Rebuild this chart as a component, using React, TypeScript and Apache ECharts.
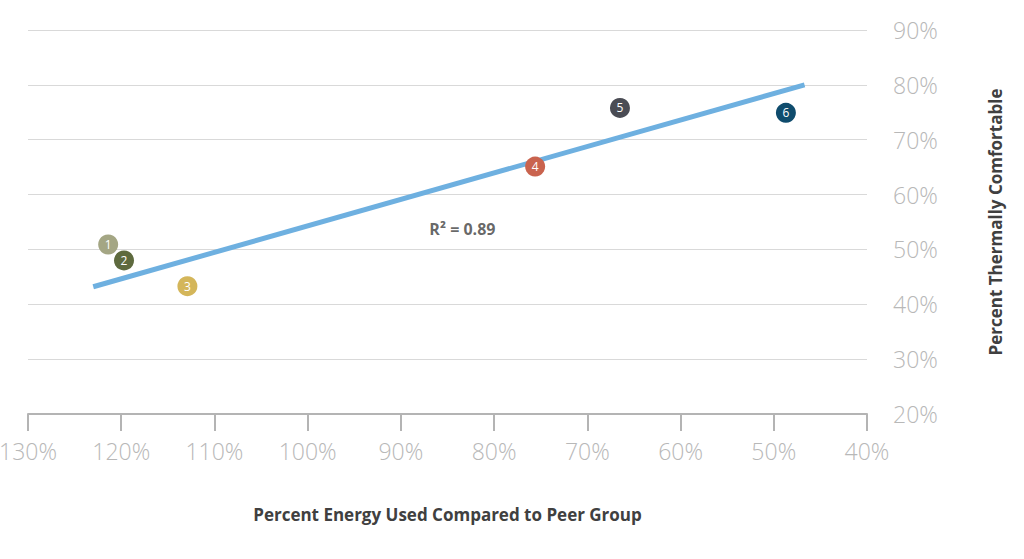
import { useEffect, useRef } from 'react';
import * as echarts from 'echarts';

// Percent energy used compared to peer group (x) vs percent thermally comfortable (y)
const pointLabels = ['1', '2', '3', '4', '5', '6'];
const energyUsed = [121.4, 119.7, 112.9, 75.6, 66.5, 48.7];
const comfortable = [50.9, 48.0, 43.3, 65.1, 75.8, 74.9];
const pointColors = ['#a4a684', '#5e6a3e', '#d4b65a', '#c9634e', '#4a4c54', '#0f4c6d'];

// linear fit drawn across the data range
const trendX = [123.0, 46.7];
const trendY = [43.2, 80.0];
const rSquared = 0.89;
const rLabelAt = [83.4, 53.8];

const xTicks = { min: 40, max: 130, step: 10 };
const yTicks = { min: 20, max: 90, step: 10 };

const tickFont = "'Open Sans', 'Noto Sans', sans-serif";

export default function App() {
  const chartRef = useRef<HTMLDivElement>(null);

  useEffect(() => {
    if (!chartRef.current) return;
    const chart = echarts.init(chartRef.current, undefined, { renderer: 'svg' });

    const option: echarts.EChartsOption = {
      animation: false,
      backgroundColor: '#ffffff',
      grid: {
        left: 28,
        right: 157,
        top: 30,
        bottom: 145,
        outerBoundsMode: 'none',
      } as any,
      xAxis: {
        type: 'value',
        inverse: true,
        min: xTicks.min,
        max: xTicks.max,
        interval: xTicks.step,
        name: 'Percent Energy Used Compared to Peer Group',
        nameLocation: 'middle',
        nameGap: 92,
        nameTextStyle: {
          color: '#404040',
          fontSize: 17,
          fontWeight: 'bold',
          fontFamily: tickFont,
        },
        axisLine: {
          show: true,
          lineStyle: { color: '#b4b4b4', width: 2 },
        },
        axisTick: {
          show: true,
          length: 17,
          lineStyle: { color: '#b4b4b4', width: 2 },
        },
        axisLabel: {
          color: '#b8b8b8',
          fontSize: 23,
          fontWeight: 300,
          fontFamily: tickFont,
          margin: 25,
          formatter: '{value}%',
        },
        splitLine: { show: false },
      },
      yAxis: {
        type: 'value',
        position: 'right',
        min: yTicks.min,
        max: yTicks.max,
        interval: yTicks.step,
        name: 'Percent Thermally Comfortable',
        nameLocation: 'middle',
        nameGap: 120,
        nameTextStyle: {
          color: '#404040',
          fontSize: 17,
          fontWeight: 'bold',
          fontFamily: tickFont,
        },
        axisLine: { show: false },
        axisTick: { show: false },
        axisLabel: {
          color: '#b8b8b8',
          fontSize: 23,
          fontWeight: 300,
          fontFamily: tickFont,
          margin: 26,
          formatter: '{value}%',
        },
        splitLine: {
          show: true,
          lineStyle: { color: '#d9d9d9', width: 1 },
        },
      },
      series: [
        {
          type: 'line',
          data: trendX.map((x, i) => [x, trendY[i]]),
          symbol: 'none',
          lineStyle: { color: '#6eb0e0', width: 5 },
          z: 2,
          silent: true,
        },
        {
          type: 'scatter',
          data: energyUsed.map((x, i) => ({
            value: [x, comfortable[i]],
            itemStyle: { color: pointColors[i], opacity: 1 },
          })),
          symbolSize: 20,
          z: 3,
          label: {
            show: true,
            position: 'inside',
            color: '#ffffff',
            fontSize: 12,
            fontFamily: tickFont,
            formatter: (p: any) => pointLabels[p.dataIndex],
          },
        },
        {
          type: 'scatter',
          data: [rLabelAt],
          symbolSize: 0,
          silent: true,
          label: {
            show: true,
            position: 'inside',
            color: '#404040',
            fontSize: 16,
            fontWeight: 'bold',
            fontFamily: tickFont,
            formatter: () => `R² = ${rSquared.toFixed(2)}`,
          },
        },
      ],
    };

    chart.setOption(option);

    return () => {
      chart.dispose();
    };
  }, []);

  return (
    <div
      ref={chartRef}
      style={{ position: 'absolute', left: 0, top: 0, width: 1024, height: 559 }}
    />
  );
}
